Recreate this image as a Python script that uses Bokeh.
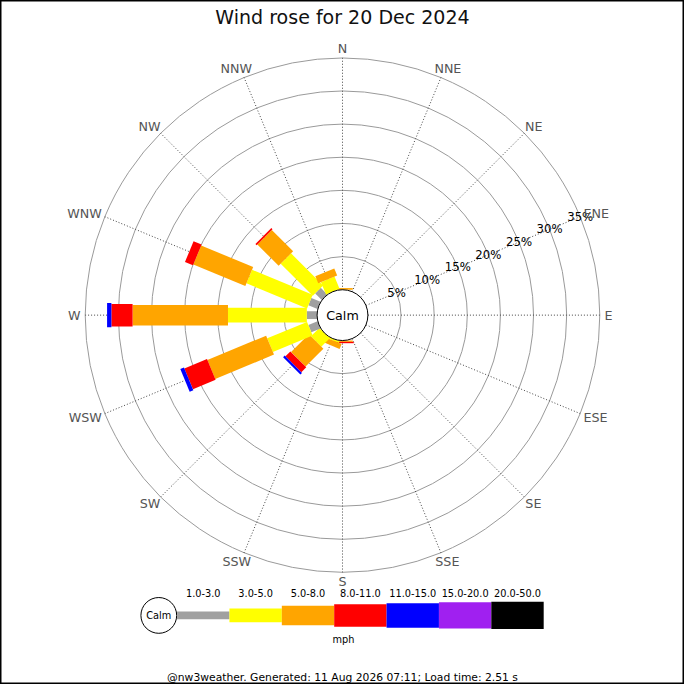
import math
from bokeh.plotting import figure
from bokeh.models import Range1d
from bokeh.core.properties import value
from bokeh.embed import file_html
from bokeh.resources import INLINE

# ---------------- data ----------------
title_text = "Wind rose for 20 Dec 2024"
directions = ["N", "NNE", "NE", "ENE", "E", "ESE", "SE", "SSE",
              "S", "SSW", "SW", "WSW", "W", "WNW", "NW", "NNW"]
speed_bins = ["1.0-3.0", "3.0-5.0", "5.0-8.0", "8.0-11.0",
              "11.0-15.0", "15.0-20.0", "20.0-50.0"]
# percentage of time, per direction (N ... NNW), for each speed bin (mph)
pct_1_3   = [0, 0, 0, 0, 0, 0, 0, 0, 0, 0,    0,    1.5,  1.55, 1.5,  1.4,  0]
pct_3_5   = [0, 0, 0, 0, 0, 0, 0, 0, 0, 0.25, 1.8,  6.5,  11.9, 9.9,  6.85, 2.0]
pct_5_8   = [0.25, 0, 0, 0, 0, 0, 0, 0, 0.2, 0.8, 3.8, 9.6, 14.4, 8.5, 4.55, 1.15]
pct_8_11  = [0, 0, 0, 0, 0, 0, 0, 0, 0.2, 0,  1.05, 3.7,  3.2,  1.3,  0.25, 0]
pct_11_15 = [0, 0, 0, 0, 0, 0, 0, 0, 0, 0,    0.35, 0.6,  0.65, 0,    0,    0]
pct_15_20 = [0] * 16
pct_20_50 = [0] * 16
ring_pcts = [5, 10, 15, 20, 25, 30, 35]
ring_labels = ["5%", "10%", "15%", "20%", "25%", "30%", "35%"]
unit_label = "mph"
calm_label = "Calm"
footer_text = "@nw3weather. Generated: 11 Aug 2026 07:11; Load time: 2.51 s"

# ---------------- style / layout ----------------
FONT = "DejaVu Sans"
SIZE = 684
S = SIZE / 700.0            # screen px per layout unit

def fs(px):
    return value("%.2fpx" % (px * S))

seg_colors = ["#a0a0a0", "#ffff00", "#ffa500", "#ff0000", "#0000ff", "#a020f0", "#000000"]
seg_widths = [8, 15, 21, 23, 25, 27, 28]
leg_heights = [8, 14, 20, 23, 25, 27, 28]
CX, CY = 350.0, 378.0       # rose centre (y measured upward)
R0 = 26.0                   # calm circle radius
K = 6.78                    # layout units per percent
R_LBL = 268.0

def rad(p):
    return R0 + K * p

p = figure(width=SIZE, height=SIZE, output_backend="svg", toolbar_location=None,
           x_range=Range1d(0, 700), y_range=Range1d(0, 700),
           x_axis_type=None, y_axis_type=None, min_border=0,
           background_fill_color="white", border_fill_color="white")
p.outline_line_color = "black"
p.outline_line_width = 2
p.grid.visible = False

# rings
p.circle(x=[CX] * len(ring_pcts), y=[CY] * len(ring_pcts),
         radius=[rad(v) for v in ring_pcts],
         fill_color=None, line_color="#9a9a9a", line_width=1)

# spokes
sx, sy = [], []
for d in range(len(directions)):
    th = math.radians(22.5 * d)
    sx.append([CX + R0 * math.sin(th), CX + rad(ring_pcts[-1]) * math.sin(th)])
    sy.append([CY + R0 * math.cos(th), CY + rad(ring_pcts[-1]) * math.cos(th)])
p.multi_line(sx, sy, line_color="#444444", line_width=1, line_dash="1 2")

# bars
bins = [pct_1_3, pct_3_5, pct_5_8, pct_8_11, pct_11_15, pct_15_20, pct_20_50]
bx, by, bc = [], [], []
for d in range(len(directions)):
    th = math.radians(22.5 * d)
    ux, uy = math.sin(th), math.cos(th)
    vx, vy = math.cos(th), -math.sin(th)
    cum = 0.0
    for b, series in enumerate(bins):
        v = series[d]
        if v <= 0:
            continue
        ra, rb = rad(cum), rad(cum + v)
        hw = seg_widths[b] / 2.0
        bx.append([CX + ux * ra + vx * hw, CX + ux * rb + vx * hw,
                   CX + ux * rb - vx * hw, CX + ux * ra - vx * hw])
        by.append([CY + uy * ra + vy * hw, CY + uy * rb + vy * hw,
                   CY + uy * rb - vy * hw, CY + uy * ra - vy * hw])
        bc.append(seg_colors[b])
        cum += v
p.patches(bx, by, fill_color=bc, line_color=None)

# calm circle
p.circle(x=[CX], y=[CY], radius=[R0], fill_color="white", line_color="black", line_width=1)
p.text(x=[CX], y=[CY], text=[calm_label], text_font=value(FONT),
       text_font_size=fs(13), text_color="black",
       text_align="center", text_baseline="middle")

# ring labels along ENE spoke
th_l = math.radians(67.5)
p.text(x=[CX + rad(v) * math.sin(th_l) for v in ring_pcts],
       y=[CY + rad(v) * math.cos(th_l) for v in ring_pcts],
       text=ring_labels, text_font=value(FONT), text_font_size=fs(12),
       text_color="black", text_align="center", text_baseline="middle")

# direction labels
cw = {"N": 0.748, "E": 0.632, "S": 0.635, "W": 0.989}
lx, ly = [], []
for d, name in enumerate(directions):
    th = math.radians(22.5 * d)
    w = sum(cw[c] for c in name) * 13
    h = 10.0
    lx.append(CX + R_LBL * math.sin(th) + w / 2 * math.sin(th))
    ly.append(CY + R_LBL * math.cos(th) + h / 2 * math.cos(th))
p.text(x=lx, y=ly, text=directions, text_font=value(FONT), text_font_size=fs(13),
       text_color="#555555", text_align="center", text_baseline="middle")

# title
p.text(x=[350], y=[683], text=[title_text], text_font=value(FONT),
       text_font_size=fs(19.5), text_color="#111111",
       text_align="center", text_baseline="middle")

# legend
LEG_X0, LEG_W, LEG_Y = 180.7, 53.6, 70.7
p.circle(x=[162], y=[LEG_Y], radius=[18.3], fill_color="white", line_color="black", line_width=1)
p.text(x=[162], y=[LEG_Y], text=[calm_label], text_font=value(FONT),
       text_font_size=fs(10), text_color="black",
       text_align="center", text_baseline="middle")
lefts = [LEG_X0 + i * LEG_W for i in range(len(speed_bins))]
p.quad(left=lefts, right=[l + LEG_W for l in lefts],
       bottom=[LEG_Y - h / 2 for h in leg_heights], top=[LEG_Y + h / 2 for h in leg_heights],
       fill_color=seg_colors, line_color=None)
p.text(x=[l + LEG_W / 2 for l in lefts], y=[93.3] * len(speed_bins), text=speed_bins,
       text_font=value(FONT), text_font_size=fs(10), text_color="black",
       text_align="center", text_baseline="middle")
p.text(x=[351], y=[46], text=[unit_label], text_font=value(FONT),
       text_font_size=fs(10), text_color="black",
       text_align="center", text_baseline="middle")

# footer
p.text(x=[350], y=[7.5], text=[footer_text], text_font=value(FONT),
       text_font_size=fs(11), text_color="black",
       text_align="center", text_baseline="middle")

open("out.html", "w").write(file_html(p, INLINE))
